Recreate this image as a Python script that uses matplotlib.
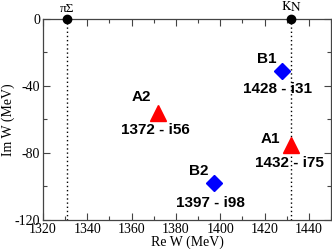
import matplotlib
matplotlib.use('Agg')
import matplotlib.pyplot as plt
from matplotlib.ticker import MultipleLocator

plt.rcParams['axes.unicode_minus'] = False
plt.rcParams['mathtext.fontset'] = 'stix'

# poles: (name, Re W, Im W)
names = ['A1', 'A2', 'B1', 'B2']
re_w = [1432, 1372, 1428, 1397]
im_w = [-75, -56, -31, -98]
markers = ['^', '^', 'D', 'D']
colors = ['red', 'red', 'blue', 'blue']

# thresholds
thr_labels = ['πΣ', r'$\overline{\mathrm{K}}\mathrm{N}$']
thr_x = [1331, 1432]

# label offsets in pixels (name, value)
name_off = [(-21, 6), (-17, 16), (-16, 12), (-15, 12)]
val_off = [(-2, -18), (-3, -17), (-5, -18), (-3, -20)]

fig = plt.figure(figsize=(3.32, 2.49), dpi=100)
ax = fig.add_axes([0.1295, 0.1165, 0.8675, 0.8072])

serif = 'Liberation Serif'
sans = 'Liberation Sans'

for x, lab in zip(thr_x, thr_labels):
    ax.axvline(x, color='black', linestyle=(0, (1, 2)), linewidth=1.0, zorder=1)
    ax.plot(x, 0, 'o', color='black', markersize=6, clip_on=False, zorder=5)
    ax.annotate(lab, (x, 0), xytext=(0, 4), textcoords='offset pixels',
                ha='center', va='bottom', fontsize=9.5, family=serif)

for n, x, y, m, c, no, vo in zip(names, re_w, im_w, markers, colors, name_off, val_off):
    ax.plot(x, y, marker=m, color=c, markersize=12 if m == '^' else 8.5,
            linestyle='none', zorder=4)
    ax.annotate(n, (x, y), xytext=no, textcoords='offset pixels',
                ha='center', va='center', fontsize=11, fontweight='bold', family=sans)
    ax.annotate(f'{x} - i{-y}', (x, y), xytext=vo, textcoords='offset pixels',
                ha='center', va='center', fontsize=11, fontweight='bold', family=sans)

ax.set_xlim(1320, 1450)
ax.set_ylim(-120, 0)
ax.xaxis.set_major_locator(MultipleLocator(20))
ax.xaxis.set_minor_locator(MultipleLocator(10))
ax.yaxis.set_major_locator(MultipleLocator(40))
ax.yaxis.set_minor_locator(MultipleLocator(20))
ax.tick_params(which='both', direction='in', top=True, right=True, width=0.8,
               color='#444444')
ax.tick_params(which='major', length=5, labelsize=10, pad=2)
ax.tick_params(which='minor', length=3)
for lab in ax.get_xticklabels() + ax.get_yticklabels():
    lab.set_family(serif)
for s in ax.spines.values():
    s.set_color('#444444')
    s.set_linewidth(0.9)

ax.set_xlabel('Re W (MeV)', family=serif, fontsize=10, labelpad=0)
ax.set_ylabel('Im W (MeV)', family=serif, fontsize=10, labelpad=0)

fig.savefig('out.png', dpi=100)
